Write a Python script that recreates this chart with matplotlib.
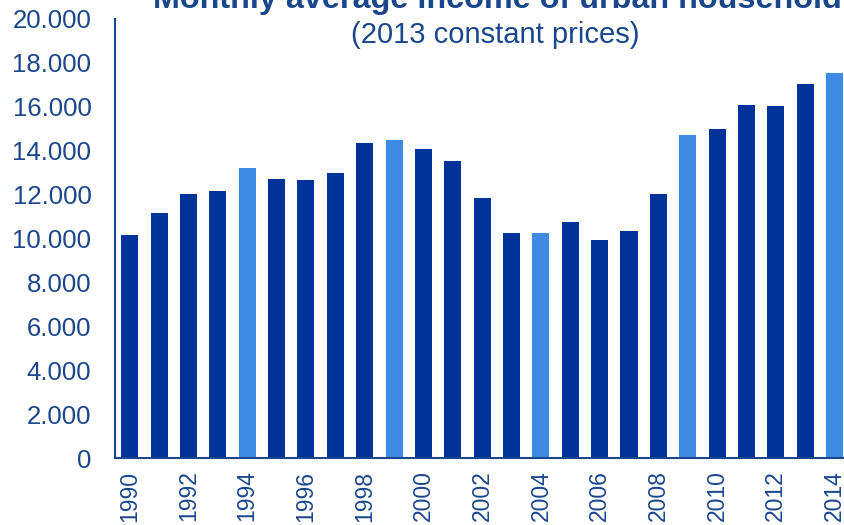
import matplotlib.pyplot as plt
import numpy as np

plt.rcParams['font.family'] = ['Liberation Sans', 'DejaVu Sans']

# Data
years = list(range(1990, 2015))
income = [10140, 11140, 12050, 12180, 13230, 12730, 12680, 13000, 14360, 14500,
          14090, 13550, 11860, 10270, 10230, 10770, 9910, 10320, 12050, 14730,
          15010, 16090, 16050, 17050, 17550]
highlight_years = [1994, 1999, 2004, 2009, 2014]

dark = '#003399'
light = '#3f8be4'
text_col = '#1a468c'

fig = plt.figure(figsize=(8.44, 5.25), dpi=100)
ax = fig.add_axes([115 / 844, 67 / 525, (844 - 115) / 844, (458 - 19) / 525])

x = np.arange(len(years))
colors = [light if y in highlight_years else dark for y in years]
ax.bar(x, income, width=0.58, color=colors)

ax.set_xlim(-0.5, 24.32)
ax.set_ylim(0, 20000)
ax.set_yticks(range(0, 20001, 2000))
ax.set_yticklabels(['0' if v == 0 else f'{v // 1000}.000' for v in range(0, 20001, 2000)])
ax.set_xticks(x[::2])
ax.set_xticklabels([str(y) for y in years[::2]], rotation=90)
ax.tick_params(length=0, labelcolor=text_col)
ax.tick_params(axis='y', pad=17, labelsize=18.5)
ax.tick_params(axis='x', pad=9, labelsize=16.5)

for s in ['top', 'right']:
    ax.spines[s].set_visible(False)
for s in ['left', 'bottom']:
    ax.spines[s].set_color(text_col)
    ax.spines[s].set_linewidth(1.5)

fig.text(497 / 844, 1 - 8 / 525, 'Monthly average income of urban household',
         ha='center', va='baseline', fontsize=23.3, fontweight='bold', color=text_col)
fig.text(495 / 844, 1 - 35 / 525, '(2013 constant prices)',
         ha='center', va='center', fontsize=21, color=text_col)

fig.savefig('out.png', dpi=100)
